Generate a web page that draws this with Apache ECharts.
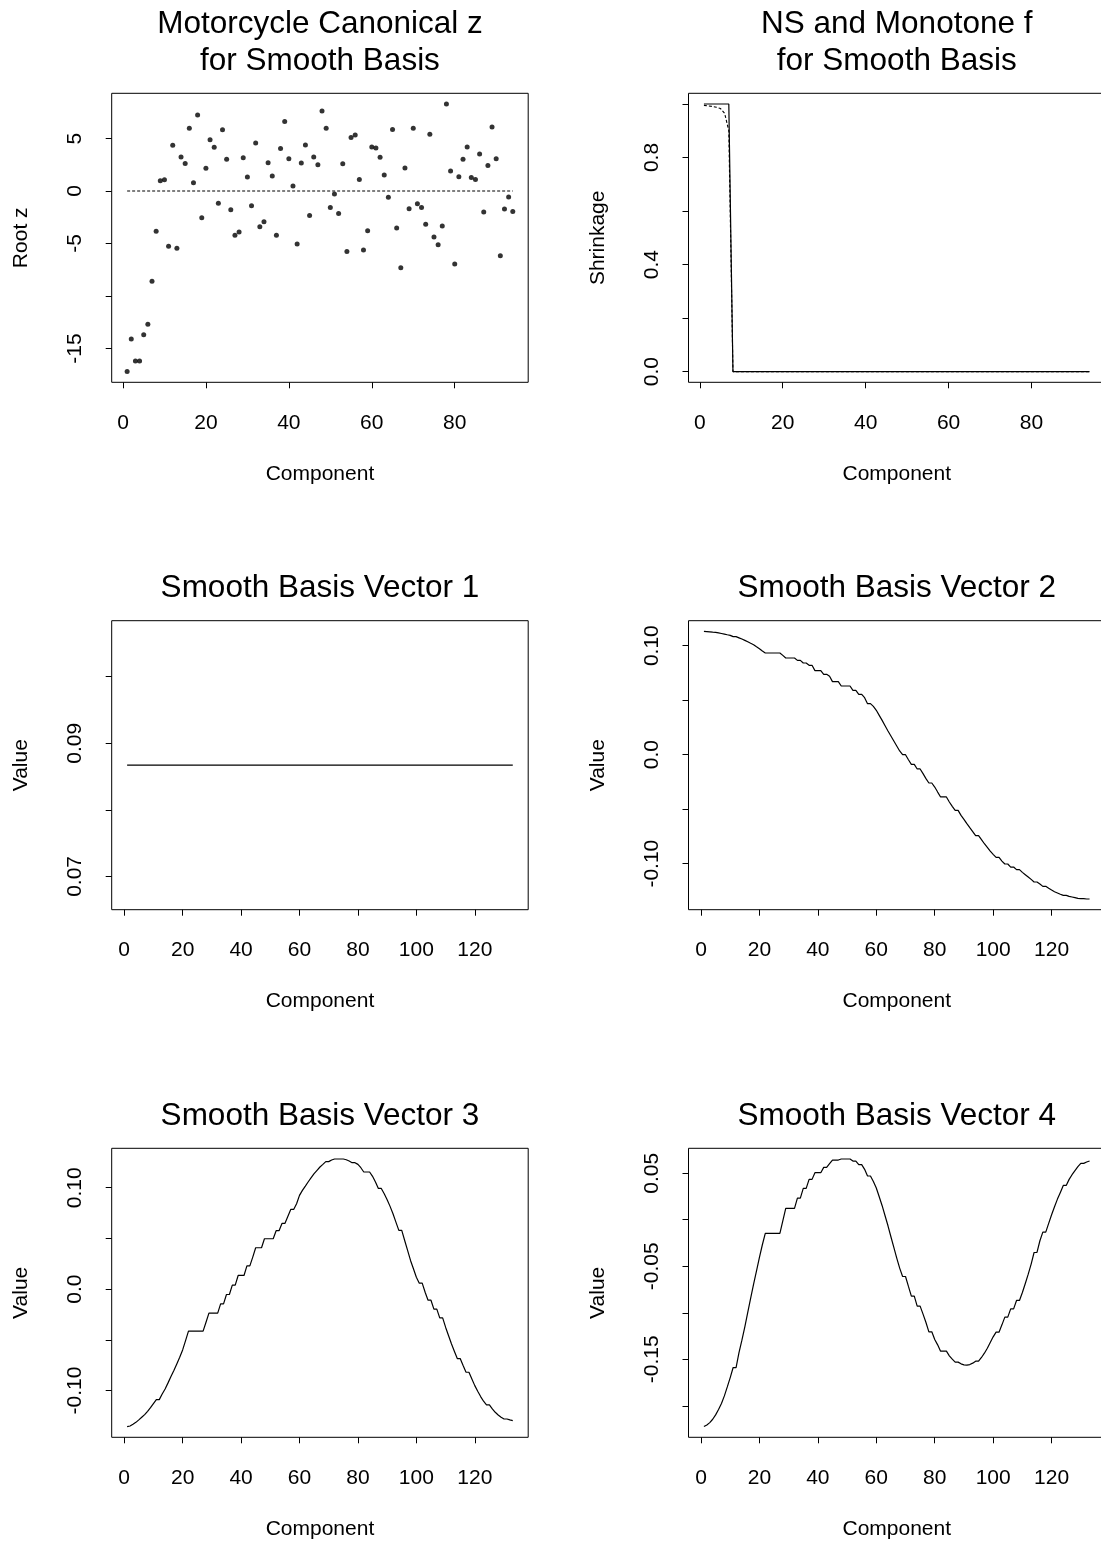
<!DOCTYPE html>
<html><head><meta charset="utf-8">
<script src="https://cdn.jsdelivr.net/npm/echarts@6/dist/echarts.min.js"></script>
<style>html,body{margin:0;padding:0;background:#fff;overflow:hidden}#c{width:1120px;height:1543px}</style>
</head><body><div id="c"></div>
<script>
// ---------------- data ----------------
const rootZ = [-17.2,-14.1,-16.2,-16.2,-13.7,-12.7,-8.6,-3.84,0.98,1.08,
 -5.27,4.35,-5.46,3.24,2.63,5.97,0.79,7.24,-2.54,2.16,
 4.89,4.16,-1.17,5.84,3.02,-1.78,-4.22,-3.90,3.17,1.33,
 -1.40,4.57,-3.40,-2.92,2.70,1.43,-4.22,4.06,6.63,3.08,
 0.48,-5.05,2.67,4.38,-2.32,3.24,2.51,7.62,5.97,-1.56,
 -0.29,-2.13,2.60,-5.75,5.11,5.33,1.11,-5.62,-3.78,4.19,
 4.10,3.21,1.52,-0.60,5.87,-3.52,-7.30,2.19,-1.68,5.97,
 -1.21,-1.56,-3.17,5.40,-4.38,-5.11,-3.33,8.29,1.90,-6.95,
 1.37,3.02,4.19,1.30,1.11,3.52,-2.00,2.44,6.10,3.08,
 -6.16,-1.71,-0.57,-1.94];
const zeroRef = 0;

const fNS = [1,1,1,1,1,1,1,0,0,0, 0,0,0,0,0,0,0,0,0,0, 0,0,0,0,0,0,0,0,0,0, 0,0,0,0,0,0,0,0,0,0,
 0,0,0,0,0,0,0,0,0,0, 0,0,0,0,0,0,0,0,0,0, 0,0,0,0,0,0,0,0,0,0, 0,0,0,0,0,0,0,0,0,0,
 0,0,0,0,0,0,0,0,0,0, 0,0,0,0];
const fMono = [0.995,0.993,0.991,0.988,0.983,0.965,0.90,0,0,0, 0,0,0,0,0,0,0,0,0,0, 0,0,0,0,0,0,0,0,0,0, 0,0,0,0,0,0,0,0,0,0,
 0,0,0,0,0,0,0,0,0,0, 0,0,0,0,0,0,0,0,0,0, 0,0,0,0,0,0,0,0,0,0, 0,0,0,0,0,0,0,0,0,0,
 0,0,0,0,0,0,0,0,0,0, 0,0,0,0];

const vec1 = [0.0867,0.0867,0.0867,0.0867,0.0867,0.0867,0.0867,0.0867,0.0867,0.0867,
 0.0867,0.0867,0.0867,0.0867,0.0867,0.0867,0.0867,0.0867,0.0867,0.0867,
 0.0867,0.0867,0.0867,0.0867,0.0867,0.0867,0.0867,0.0867,0.0867,0.0867,
 0.0867,0.0867,0.0867,0.0867,0.0867,0.0867,0.0867,0.0867,0.0867,0.0867,
 0.0867,0.0867,0.0867,0.0867,0.0867,0.0867,0.0867,0.0867,0.0867,0.0867,
 0.0867,0.0867,0.0867,0.0867,0.0867,0.0867,0.0867,0.0867,0.0867,0.0867,
 0.0867,0.0867,0.0867,0.0867,0.0867,0.0867,0.0867,0.0867,0.0867,0.0867,
 0.0867,0.0867,0.0867,0.0867,0.0867,0.0867,0.0867,0.0867,0.0867,0.0867,
 0.0867,0.0867,0.0867,0.0867,0.0867,0.0867,0.0867,0.0867,0.0867,0.0867,
 0.0867,0.0867,0.0867,0.0867,0.0867,0.0867,0.0867,0.0867,0.0867,0.0867,
 0.0867,0.0867,0.0867,0.0867,0.0867,0.0867,0.0867,0.0867,0.0867,0.0867,
 0.0867,0.0867,0.0867,0.0867,0.0867,0.0867,0.0867,0.0867,0.0867,0.0867,
 0.0867,0.0867,0.0867,0.0867,0.0867,0.0867,0.0867,0.0867,0.0867,0.0867,
 0.0867,0.0867,0.0867];

const vec2 = [0.1131,0.1129,0.1127,0.1124,0.1122,0.1117,0.1112,0.1106,0.1100,0.1095,
 0.1083,0.1083,
 0.1072,0.1061,0.1049,0.1036,0.1022,0.1009,0.0990,0.0972,0.0951,
 0.0933,0.0933,0.0933,0.0933,0.0933,0.0933,
 0.0911,
 0.0887,0.0887,0.0887,0.0887,
 0.0865,0.0865, 0.0841,0.0841, 0.0820,0.0820,
 0.0771,0.0771,0.0771, 0.0737,0.0737, 0.0719,
 0.0670,0.0670,0.0670, 0.0630,0.0630,0.0630,0.0630,
 0.0590,0.0590, 0.0554,0.0554, 0.0523, 0.0468,0.0468, 0.0443, 0.0407,
 0.0361,0.0315,0.0266,0.0217,0.0171,0.0125,0.0080,0.0034,
 0.0000,0.0000, -0.0046, -0.0089,-0.0089, -0.0131,-0.0131, -0.0174, -0.0220,
 -0.0260,-0.0260, -0.0297, -0.0343, -0.0388,-0.0388,-0.0388, -0.0434, -0.0474,
 -0.0511,-0.0511,
 -0.0557,-0.0593,-0.0633,-0.0670,-0.0706,
 -0.0743,-0.0743,
 -0.0780,-0.0817,-0.0850,-0.0884,-0.0914,
 -0.0942,-0.0942, -0.0976, -0.1003,-0.1003, -0.1031,-0.1031, -0.1055,-0.1055,
 -0.1080,-0.1101,-0.1122,-0.1144,
 -0.1168,-0.1168, -0.1187, -0.1208,-0.1208,
 -0.1226,-0.1242,-0.1257,-0.1269,-0.1281,
 -0.1291,-0.1291,
 -0.1300,-0.1306,-0.1312,-0.1318,
 -0.1321,-0.1321, -0.1324,-0.1324];

const vec3 = [-0.1355,-0.1349,-0.1332,-0.1313,-0.1289,-0.1263,-0.1237,-0.1204,-0.1168,-0.1128,
 -0.1089,-0.1089,
 -0.1033,-0.0984,-0.0924,-0.0862,-0.0803,-0.0737,-0.0671,-0.0599,-0.0507,
 -0.0414,-0.0414,-0.0414,-0.0414,-0.0414,-0.0414,
 -0.0326,
 -0.0237,-0.0237,-0.0237,-0.0237,
 -0.0145,-0.0145, -0.0053,-0.0053, 0.0039,0.0039,
 0.0135,0.0135,0.0135, 0.0230,0.0230, 0.0316,
 0.0408,0.0408,0.0408, 0.0497,0.0497,0.0497,0.0497,
 0.0576,0.0576, 0.0648,0.0648, 0.0717, 0.0786,0.0786, 0.0842, 0.0924,
 0.0974,0.1016,0.1059,0.1099,0.1138,0.1171,0.1204,0.1230,
 0.1257,0.1257, 0.1273, 0.1283,0.1283, 0.1283,0.1283, 0.1276, 0.1263,
 0.1247,0.1247, 0.1230, 0.1197, 0.1155,0.1155,0.1155, 0.1112, 0.1056,
 0.0993,0.0993,
 0.0941,0.0882,0.0816,0.0743,0.0661,
 0.0579,0.0579,
 0.0480,0.0382,0.0283,0.0201,0.0118,
 0.0059,0.0059, -0.0030, -0.0109,-0.0109, -0.0197,-0.0197, -0.0283,-0.0283,
 -0.0375,-0.0457,-0.0539,-0.0612,
 -0.0684,-0.0684, -0.0753, -0.0819,-0.0819,
 -0.0885,-0.0951,-0.1007,-0.1059,-0.1105,
 -0.1141,-0.1141,
 -0.1181,-0.1214,-0.1240,-0.1263,
 -0.1280,-0.1280, -0.1289,-0.1296];

const vec4 = [-0.2224,-0.2206,-0.2181,-0.2145,-0.2098,-0.2041,-0.1976,-0.1894,-0.1797,-0.1697,
 -0.1589,-0.1589,
 -0.1428,-0.1295,-0.1151,-0.0997,-0.0843,-0.0692,-0.0549,-0.0405,-0.0269,
 -0.0147,-0.0147,-0.0147,-0.0147,-0.0147,-0.0147,
 -0.0011,
 0.0122,0.0122,0.0122,0.0122,
 0.0233,0.0233, 0.0337,0.0337, 0.0434,0.0434,
 0.0506,0.0506,0.0506, 0.0563,0.0563, 0.0603,
 0.0642,0.0642,0.0642, 0.0653,0.0653,0.0653,0.0653,
 0.0631,0.0631, 0.0592,0.0592, 0.0542, 0.0470,0.0470, 0.0412, 0.0341,
 0.0247,0.0151,0.0043,-0.0065,-0.0183,-0.0298,-0.0412,-0.0520,
 -0.0610,-0.0610, -0.0717, -0.0821,-0.0821, -0.0929,-0.0929, -0.1015, -0.1105,
 -0.1205,-0.1205, -0.1288, -0.1345, -0.1413,-0.1413,-0.1413, -0.1463, -0.1499,
 -0.1531,-0.1531,
 -0.1549,-0.1560,-0.1564,-0.1557,-0.1542,
 -0.1521,-0.1521,
 -0.1481,-0.1435,-0.1381,-0.1320,-0.1259,
 -0.1209,-0.1209, -0.1130, -0.1047,-0.1047, -0.0958,-0.0958, -0.0868,-0.0868,
 -0.0782,-0.0685,-0.0585,-0.0477,
 -0.0352,-0.0352, -0.0226, -0.0133,-0.0133,
 -0.0039,0.0054,0.0140,0.0222,0.0294,
 0.0369,0.0369,
 0.0434,0.0484,0.0527,0.0570,
 0.0606,0.0606, 0.0621,0.0631];

// tick marks and tick labels
const ticks94 = [0,20,40,60,80];
const ticks133 = [0,20,40,60,80,100,120];
const rootZTicks = [-15,-10,-5,0,5];
const rootZLabels = [[-15,'-15'],[-5,'-5'],[0,'0'],[5,'5']];
const shrinkTicks = [0,0.2,0.4,0.6,0.8,1.0];
const shrinkLabels = [[0,'0.0'],[0.4,'0.4'],[0.8,'0.8']];
const v1Ticks = [0.07,0.08,0.09,0.10];
const v1Labels = [[0.07,'0.07'],[0.09,'0.09']];
const v23Ticks = [-0.10,-0.05,0,0.05,0.10];
const v23Labels = [[-0.10,'-0.10'],[0,'0.0'],[0.10,'0.10']];
const v4Ticks = [-0.20,-0.15,-0.10,-0.05,0,0.05];
const v4Labels = [[-0.15,'-0.15'],[-0.05,'-0.05'],[0.05,'0.05']];
const v1Range = [0.0650, 0.1084];

// ---------------- layout ----------------
const FONT = '"Liberation Sans", Arial, Helvetica, sans-serif';
const COLX = [111.7, 688.5];
const ROWY = [93.3, 620.7, 1148.3];
const BOXW = 416.5, BOXH = 289;

function padRange(arr){
  let mn = Math.min(...arr), mx = Math.max(...arr);
  const r = mx - mn;
  return [mn - 0.04*r, mx + 0.04*r];
}
function idxRange(n){ return padRange([1, n]); }
function toXY(arr){ return arr.map((v,i)=>[i+1, v]); }
function labelFmt(pairs){
  return function(v){
    for (const p of pairs) if (Math.abs(p[0]-v) < 1e-9) return p[1];
    return '';
  };
}

const panels = [
  {col:0,row:0, n:rootZ.length, xt:ticks94, yr:padRange(rootZ), yt:rootZTicks, yl:rootZLabels,
   title:['Motorcycle Canonical z','for Smooth Basis'], ylab:'Root z'},
  {col:1,row:0, n:fNS.length, xt:ticks94, yr:padRange(fNS.concat(fMono)), yt:shrinkTicks, yl:shrinkLabels,
   title:['NS and Monotone f','for Smooth Basis'], ylab:'Shrinkage'},
  {col:0,row:1, n:vec1.length, xt:ticks133, yr:v1Range, yt:v1Ticks, yl:v1Labels,
   title:['Smooth Basis Vector 1'], ylab:'Value'},
  {col:1,row:1, n:vec2.length, xt:ticks133, yr:padRange(vec2), yt:v23Ticks, yl:v23Labels,
   title:['Smooth Basis Vector 2'], ylab:'Value'},
  {col:0,row:2, n:vec3.length, xt:ticks133, yr:padRange(vec3), yt:v23Ticks, yl:v23Labels,
   title:['Smooth Basis Vector 3'], ylab:'Value'},
  {col:1,row:2, n:vec4.length, xt:ticks133, yr:padRange(vec4), yt:v4Ticks, yl:v4Labels,
   title:['Smooth Basis Vector 4'], ylab:'Value'}
];

const grids = [], xAxes = [], yAxes = [], graphics = [];
panels.forEach((p,i)=>{
  const left = COLX[p.col], top = ROWY[p.row];
  grids.push({left:left, top:top, width:BOXW, height:BOXH, show:true,
    borderColor:'#000', borderWidth:1, backgroundColor:'transparent'});
  const xr = idxRange(p.n);
  xAxes.push({gridIndex:i, type:'value', min:xr[0], max:xr[1], position:'bottom',
    axisLine:{show:false, onZero:false},
    splitLine:{show:false},
    axisTick:{show:true, customValues:p.xt, length:6, inside:false, lineStyle:{color:'#000', width:1}},
    axisLabel:{customValues:p.xt, margin:30, fontSize:21, color:'#000', fontFamily:FONT}
  });
  yAxes.push({gridIndex:i, type:'value', min:p.yr[0], max:p.yr[1], position:'left',
    axisLine:{show:false, onZero:false},
    splitLine:{show:false},
    axisTick:{show:true, customValues:p.yt, length:6, inside:false, lineStyle:{color:'#000', width:1}},
    axisLabel:{customValues:p.yl.map(q=>q[0]), formatter:labelFmt(p.yl), rotate:90, margin:26,
      fontSize:21, color:'#000', fontFamily:FONT}
  });
  const cx = left + BOXW/2;
  const cy = top + BOXH/2;
  const tstyle = {fontSize:31.5, fontFamily:FONT, fill:'#000', align:'center', verticalAlign:'middle', textAlign:'center', textVerticalAlign:'middle'};
  if (p.title.length === 2) {
    graphics.push({type:'text', x:cx, y:top-69.3, style:Object.assign({text:p.title[0]}, tstyle)});
    graphics.push({type:'text', x:cx, y:top-31.9, style:Object.assign({text:p.title[1]}, tstyle)});
  } else {
    graphics.push({type:'text', x:cx, y:top-31.9, style:Object.assign({text:p.title[0]}, tstyle)});
  }
  const astyle = {fontSize:21, fontFamily:FONT, fill:'#000', align:'center', verticalAlign:'middle', textAlign:'center', textVerticalAlign:'middle'};
  graphics.push({type:'text', x:cx, y:top+BOXH+91.5, style:Object.assign({text:'Component'}, astyle)});
  graphics.push({type:'text', x:left-90.4, y:cy, rotation:Math.PI/2, style:Object.assign({text:p.ylab}, astyle)});
});

const lineBase = {type:'line', symbol:'none', showSymbol:false, clip:true, silent:true,
  lineStyle:{color:'#000', width:1.2}};
const series = [
  {type:'scatter', xAxisIndex:0, yAxisIndex:0, data:toXY(rootZ), symbolSize:5, silent:true,
   itemStyle:{color:'#000'}},
  Object.assign({}, lineBase, {xAxisIndex:0, yAxisIndex:0, data:[[1,zeroRef],[rootZ.length,zeroRef]],
   lineStyle:{color:'#000', width:1.1, type:[3,2]}}),
  Object.assign({}, lineBase, {xAxisIndex:1, yAxisIndex:1, data:toXY(fNS)}),
  Object.assign({}, lineBase, {xAxisIndex:1, yAxisIndex:1, data:toXY(fMono),
   lineStyle:{color:'#000', width:1.1, type:[3,2]}}),
  Object.assign({}, lineBase, {xAxisIndex:2, yAxisIndex:2, data:toXY(vec1)}),
  Object.assign({}, lineBase, {xAxisIndex:3, yAxisIndex:3, data:toXY(vec2)}),
  Object.assign({}, lineBase, {xAxisIndex:4, yAxisIndex:4, data:toXY(vec3)}),
  Object.assign({}, lineBase, {xAxisIndex:5, yAxisIndex:5, data:toXY(vec4)})
];

const chart = echarts.init(document.getElementById('c'), null, {renderer:'canvas'});
chart.setOption({
  animation:false,
  backgroundColor:'#fff',
  grid:grids, xAxis:xAxes, yAxis:yAxes, series:series, graphic:graphics
});
</script>
</body></html>
